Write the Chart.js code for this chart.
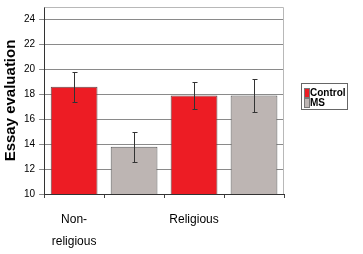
<!DOCTYPE html>
<html><head><meta charset="utf-8">
<script src="https://cdn.jsdelivr.net/npm/chart.js@4.4.0/dist/chart.umd.min.js"></script>
<style>html,body{margin:0;padding:0;background:#fff;}#wrap{width:363px;height:254px;}</style>
</head><body><div id="wrap"><canvas id="c" width="363" height="254"></canvas></div>
<script>
const categories = [["Non-","religious"], "", "Religious", ""];
const controlValues = [18.6, null, 17.9, null];
const msValues = [null, 13.8, null, 17.9];
const controlErrors = [1.2, null, 1.05, null];
const msErrors = [null, 1.2, null, 1.3];
const yTicks = [10, 12, 14, 16, 18, 20, 22, 24];

const errorBars = {
  id: 'errorBars',
  afterDatasetsDraw(chart) {
    const ctx = chart.ctx, y = chart.scales.y;
    const errs = [controlErrors, msErrors];
    ctx.save();
    ctx.strokeStyle = '#333';
    ctx.lineWidth = 1;
    chart.data.datasets.forEach((ds, di) => {
      const meta = chart.getDatasetMeta(di);
      meta.data.forEach((bar, i) => {
        const v = ds.data[i], e = errs[di][i];
        if (v == null || e == null) return;
        const x = Math.round(bar.x) + 0.5;
        const t = Math.round(y.getPixelForValue(v + e)) + 0.5;
        const b = Math.round(y.getPixelForValue(v - e)) + 0.5;
        ctx.beginPath();
        ctx.moveTo(x, t); ctx.lineTo(x, b);
        ctx.moveTo(x - 2, t); ctx.lineTo(x + 3, t);
        ctx.moveTo(x - 2, b); ctx.lineTo(x + 3, b);
        ctx.stroke();
      });
    });
    ctx.restore();
  }
};

const frame = {
  id: 'frame',
  beforeDatasetsDraw(chart) {
    const {ctx, chartArea: a} = chart;
    ctx.save();
    ctx.strokeStyle = '#b8b8b8';
    ctx.lineWidth = 1;
    ctx.beginPath();
    ctx.moveTo(Math.round(a.left) + 0.5, Math.round(a.top) + 0.5);
    ctx.lineTo(Math.round(a.right) - 0.5, Math.round(a.top) + 0.5);
    ctx.lineTo(Math.round(a.right) - 0.5, Math.round(a.bottom));
    ctx.stroke();
    ctx.restore();
  }
};

const boxLegend = {
  id: 'boxLegend',
  afterDraw(chart) {
    const ctx = chart.ctx, a = chart.chartArea;
    const font = 'bold 10px "Liberation Sans"';
    ctx.save();
    ctx.font = font;
    const dss = chart.data.datasets;
    const left = Math.round(a.right) + 17;
    const top = 83;
    const rowH = 10;
    let maxW = 0;
    dss.forEach(ds => { maxW = Math.max(maxW, ctx.measureText(ds.label).width); });
    const w = 8 + maxW + 2;
    const h = dss.length * rowH + 6;
    ctx.strokeStyle = '#666';
    ctx.lineWidth = 1;
    ctx.strokeRect(left + 0.5, top + 0.5, Math.round(w), h);
    dss.forEach((ds, i) => {
      const cy = top + 6 + i * rowH + 4;
      ctx.fillStyle = ds.backgroundColor;
      ctx.fillRect(left + 4, cy - 4, 4, 8);
      ctx.strokeStyle = '#777';
      ctx.strokeRect(left + 3.5, cy - 4.5, 5, 9);
      ctx.fillStyle = '#000';
      ctx.textBaseline = 'middle';
      ctx.textAlign = 'left';
      ctx.fillText(ds.label, left + 9, cy + 0.5);
    });
    ctx.restore();
  }
};

new Chart(document.getElementById('c'), {
  type: 'bar',
  data: {
    labels: categories,
    datasets: [
      { label: 'Control', data: controlValues, backgroundColor: '#ED1C24', borderColor: '#5a4a4a', borderWidth: 1, grouped: false, barPercentage: 0.78, categoryPercentage: 1 },
      { label: 'MS', data: msValues, backgroundColor: '#BDB5B3', borderColor: '#5a5a5a', borderWidth: 1, grouped: false, barPercentage: 0.78, categoryPercentage: 1 }
    ]
  },
  options: {
    responsive: false,
    animation: false,
    layout: { padding: { top: 7, right: 79, bottom: 1, left: 0 } },
    plugins: {
      tooltip: { enabled: false },
      legend: { display: false }
    },
    scales: {
      x: {
        offset: true,
        afterFit(axis) { axis.height = 59; axis.paddingLeft = 0; axis.paddingRight = 0; },
        grid: { offset: true, drawOnChartArea: false, drawTicks: true, tickLength: 4, color: '#444' },
        border: { color: '#333' },
        ticks: { padding: 11, maxRotation: 0, autoSkip: false, color: '#000', font: { family: 'Liberation Sans', size: 12, lineHeight: 1.83 } }
      },
      y: {
        min: 10, max: 25,
        afterBuildTicks(axis) { axis.ticks = yTicks.map(v => ({ value: v })); },
        afterFit(axis) { axis.paddingTop = 0; axis.paddingBottom = 0; },
        grid: { color: '#8a8a8a', tickLength: 5, drawTicks: true },
        border: { color: '#333' },
        title: { display: true, text: 'Essay evaluation', color: '#000', font: { family: 'Liberation Sans', size: 15, weight: 'bold' }, padding: { top: 2, bottom: 0 } },
        ticks: { padding: 4, color: '#000', font: { family: 'Liberation Sans', size: 10 } }
      }
    }
  },
  plugins: [errorBars, frame, boxLegend]
});
</script></body></html>
